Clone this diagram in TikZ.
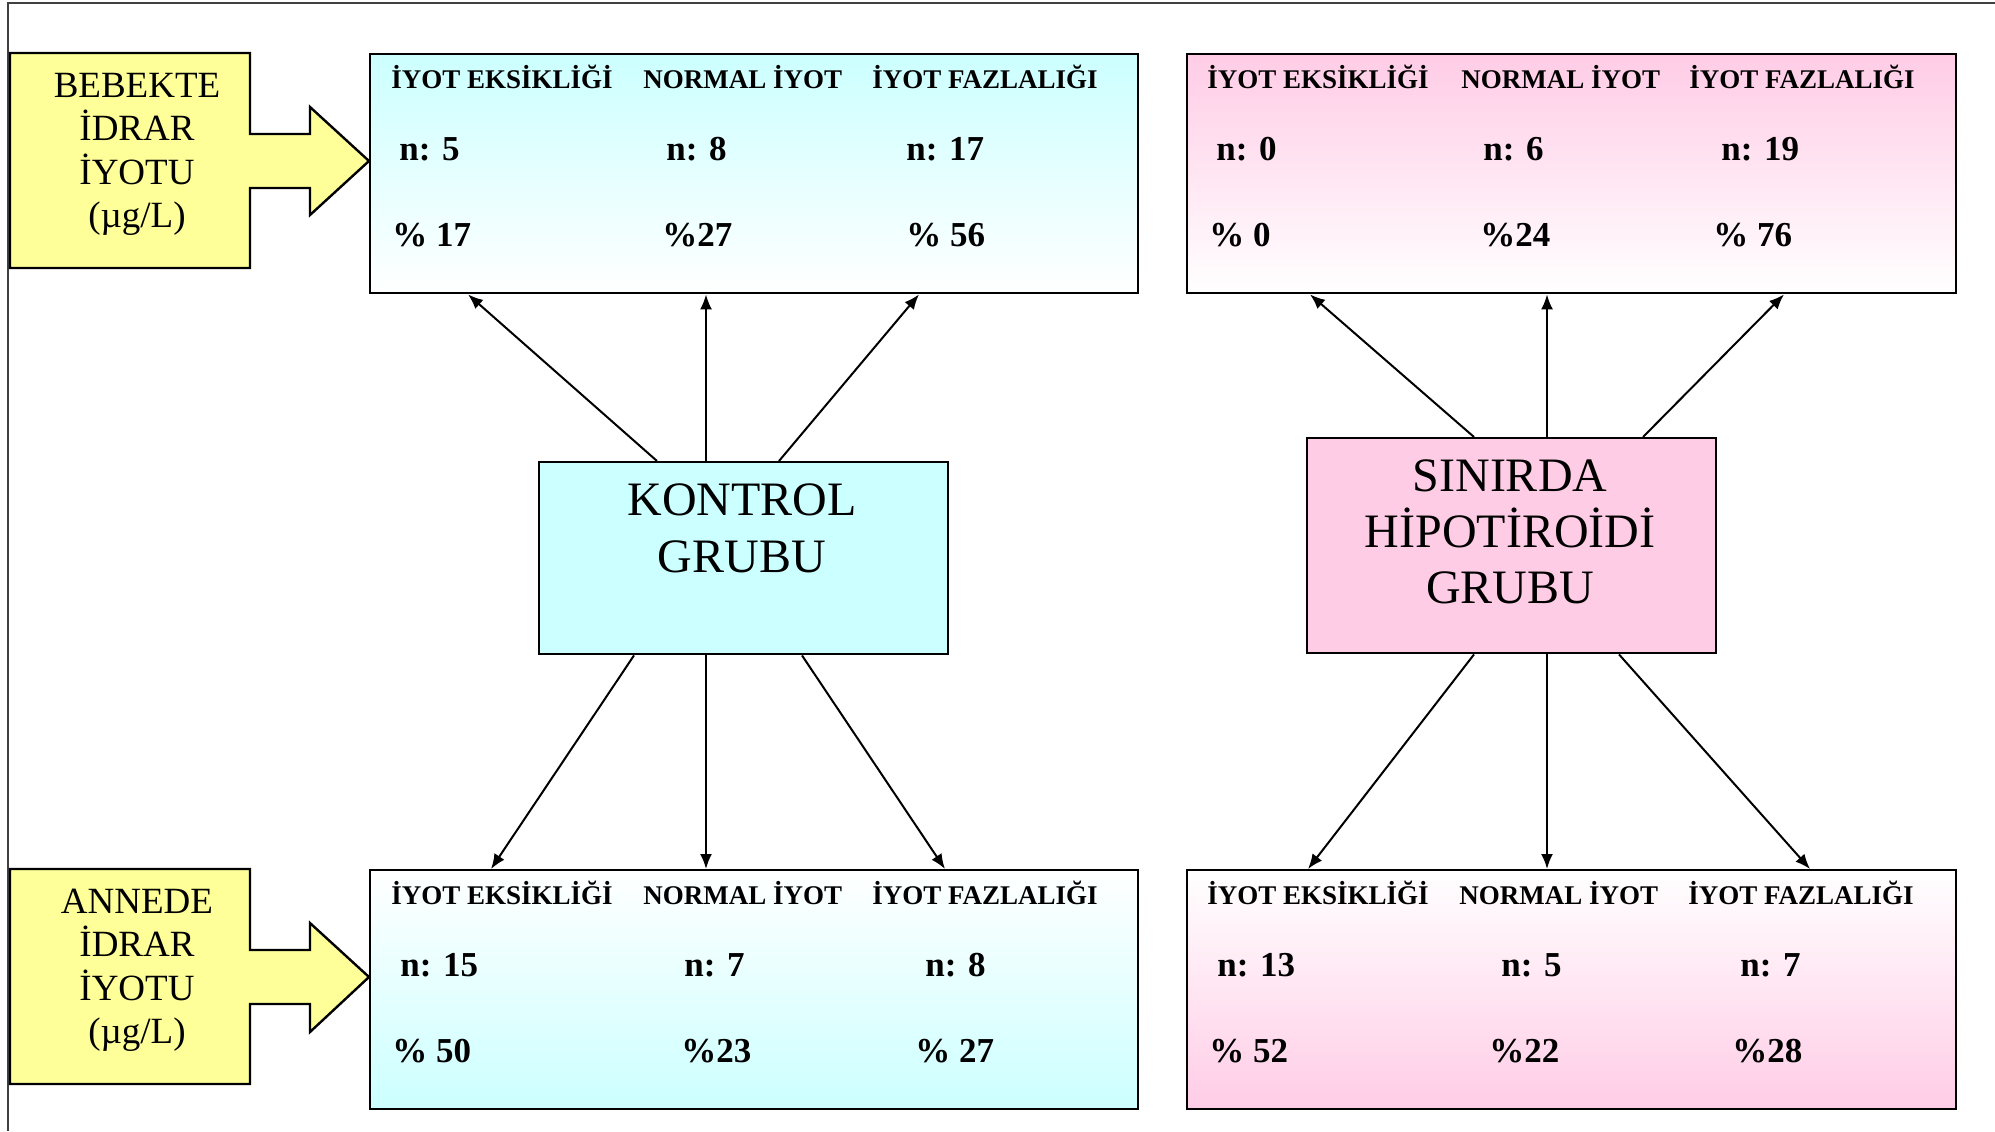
\documentclass[tikz,border=0pt]{standalone}
\usepackage{fontspec}
\setmainfont{Liberation Serif}
\usetikzlibrary{arrows.meta,calc}

\definecolor{cyanbox}{HTML}{CCFFFF}
\definecolor{pinkbox}{HTML}{FFCCE6}
\definecolor{yellowbox}{HTML}{FFFF99}
\definecolor{framegray}{HTML}{404040}

\tikzset{
  databox/.style={draw=black, line width=1.2pt, inner sep=0pt, anchor=north west,
    minimum width=384pt, minimum height=119.5pt},
  groupbox/.style={draw=black, line width=1.2pt, inner sep=0pt, anchor=north west,
    minimum width=204.5pt},
  callout/.style={draw=black, line width=1.2pt, fill=yellowbox},
  head/.style={anchor=base west, inner sep=0pt, font=\fontsize{13.5}{16}\selectfont\bfseries},
  val/.style={anchor=base west, inner sep=0pt, font=\fontsize{17.5}{20}\selectfont\bfseries},
  conn/.style={line width=1pt, -{Latex[length=7.5pt,width=6pt]}},
}

\begin{document}
\begin{tikzpicture}[x=0.5pt,y=-0.5pt]
\useasboundingbox (0,0) rectangle (1995,1131);

% page frame (top and left edges)
\draw[framegray, line width=1pt] (1995,3) -- (8,3) -- (8,1131);

% yellow callouts
\draw[callout] (10,53) -- (250,53) -- (250,134) -- (310,134) -- (310,107) -- (369,161)
  -- (310,215) -- (310,188) -- (250,188) -- (250,268) -- (10,268) -- cycle;
\node[anchor=base, inner sep=0pt, font=\fontsize{18.5}{21.7}\selectfont] (bebekte) at (137,97)
  {\begin{tabular}[t]{@{}c@{}}BEBEKTE\\İDRAR\\İYOTU\\(µg/L)\end{tabular}};

\draw[callout] (10,869) -- (250,869) -- (250,950) -- (310,950) -- (310,923) -- (369,977)
  -- (310,1032) -- (310,1004) -- (250,1004) -- (250,1084) -- (10,1084) -- cycle;
\node[anchor=base, inner sep=0pt, font=\fontsize{18.5}{21.7}\selectfont] (annede) at (137,913)
  {\begin{tabular}[t]{@{}c@{}}ANNEDE\\İDRAR\\İYOTU\\(µg/L)\end{tabular}};

% data boxes
\node[databox, top color=cyanbox, bottom color=white] (tl) at (369,53) {};
\node[databox, top color=pinkbox, bottom color=white, minimum width=384.5pt] (tr) at (1186,53) {};
\node[databox, top color=white, bottom color=cyanbox] (bl) at (369,869) {};
\node[databox, top color=white, bottom color=pinkbox, minimum width=384.5pt] (br) at (1186,869) {};

% group boxes
\node[groupbox, fill=cyanbox, minimum height=96pt] (kontrol) at (538,461) {};
\node[anchor=base, inner sep=0pt, font=\fontsize{24}{28.5}\selectfont] (kontrolT) at (742,515)
  {\begin{tabular}[t]{@{}c@{}}KONTROL\\GRUBU\end{tabular}};
\node[groupbox, fill=pinkbox, minimum height=107.5pt] (sinirda) at (1306,437) {};
\node[anchor=base, inner sep=0pt, font=\fontsize{24}{28}\selectfont] (sinirdaT) at (1510,491)
  {\begin{tabular}[t]{@{}c@{}}SINIRDA\\HİPOTİROİDİ\\GRUBU\end{tabular}};

% top left values
\node[head] (tlh1) at (391,88) {İYOT EKSİKLİĞİ};
\node[head] (tlh2) at (643,88) {NORMAL İYOT};
\node[head] (tlh3) at (872,88) {İYOT FAZLALIĞI};
\node[val] (tln1) at (399,160) {n: 5};
\node[val] (tln2) at (666,160) {n: 8};
\node[val] (tln3) at (906,160) {n: 17};
\node[val] (tlp1) at (392,246) {\% 17};
\node[val] (tlp2) at (662,246) {\%27};
\node[val] (tlp3) at (906,246) {\% 56};

% top right values
\node[head] (trh1) at (1207,88) {İYOT EKSİKLİĞİ};
\node[head] (trh2) at (1461,88) {NORMAL İYOT};
\node[head] (trh3) at (1689,88) {İYOT FAZLALIĞI};
\node[val] (trn1) at (1216,160) {n: 0};
\node[val] (trn2) at (1483,160) {n: 6};
\node[val] (trn3) at (1721,160) {n: 19};
\node[val] (trp1) at (1209,246) {\% 0};
\node[val] (trp2) at (1480,246) {\%24};
\node[val] (trp3) at (1713,246) {\% 76};

% bottom left values
\node[head] (blh1) at (391,904) {İYOT EKSİKLİĞİ};
\node[head] (blh2) at (643,904) {NORMAL İYOT};
\node[head] (blh3) at (872,904) {İYOT FAZLALIĞI};
\node[val] (bln1) at (400,976) {n: 15};
\node[val] (bln2) at (684,976) {n: 7};
\node[val] (bln3) at (925,976) {n: 8};
\node[val] (blp1) at (392,1062) {\% 50};
\node[val] (blp2) at (681,1062) {\%23};
\node[val] (blp3) at (915,1062) {\% 27};

% bottom right values
\node[head] (brh1) at (1207,904) {İYOT EKSİKLİĞİ};
\node[head] (brh2) at (1459,904) {NORMAL İYOT};
\node[head] (brh3) at (1688,904) {İYOT FAZLALIĞI};
\node[val] (brn1) at (1217,976) {n: 13};
\node[val] (brn2) at (1501,976) {n: 5};
\node[val] (brn3) at (1740,976) {n: 7};
\node[val] (brp1) at (1209,1062) {\% 52};
\node[val] (brp2) at (1489,1062) {\%22};
\node[val] (brp3) at (1732,1062) {\%28};

% connectors: control group
\draw[conn] ($(kontrol.north west)+(119,0)$) -- ($(tl.south west)+(99,0)$);
\draw[conn] ($(kontrol.north west)+(168,0)$) -- ($(tl.south west)+(337,0)$);
\draw[conn] ($(kontrol.north west)+(241,0)$) -- ($(tl.south west)+(550,0)$);
\draw[conn] ($(kontrol.south west)+(96,0)$) -- ($(bl.north west)+(122,0)$);
\draw[conn] ($(kontrol.south west)+(168,0)$) -- ($(bl.north west)+(337,0)$);
\draw[conn] ($(kontrol.south west)+(264,0)$) -- ($(bl.north west)+(576,0)$);

% connectors: borderline hypothyroidism group
\draw[conn] ($(sinirda.north west)+(168,0)$) -- ($(tr.south west)+(124,0)$);
\draw[conn] ($(sinirda.north west)+(241,0)$) -- ($(tr.south west)+(361,0)$);
\draw[conn] ($(sinirda.north west)+(337,0)$) -- ($(tr.south west)+(598,0)$);
\draw[conn] ($(sinirda.south west)+(168,0)$) -- ($(br.north west)+(122,0)$);
\draw[conn] ($(sinirda.south west)+(241,0)$) -- ($(br.north west)+(361,0)$);
\draw[conn] ($(sinirda.south west)+(313,0)$) -- ($(br.north west)+(624,0)$);
\end{tikzpicture}
\end{document}
